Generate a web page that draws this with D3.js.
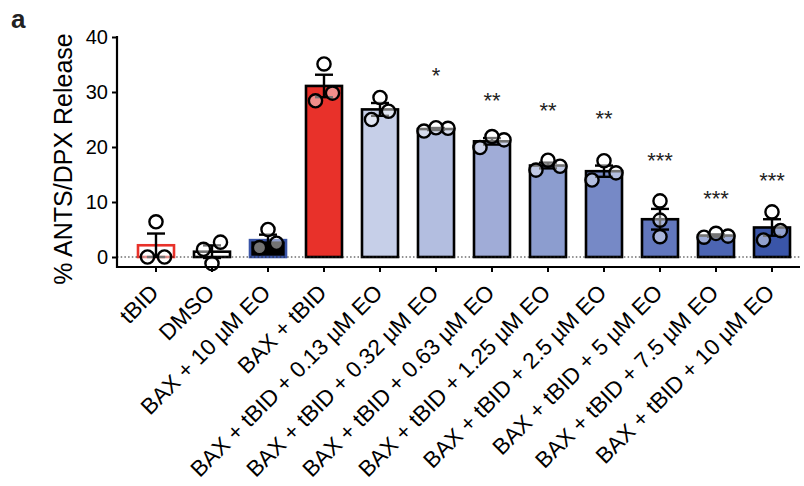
<!DOCTYPE html>
<html>
<head>
<meta charset="utf-8">
<script src="https://cdn.jsdelivr.net/npm/d3@7/dist/d3.min.js"></script>
<style>
  html, body { margin: 0; padding: 0; background: #fff; }
  svg { display: block; font-family: Arial, "Liberation Sans", Helvetica, sans-serif; }
</style>
</head>
<body>
<svg id="chart" width="804" height="486"></svg>
<script>
// ---- data ----
const categories = [
  "tBID", "DMSO", "BAX + 10 µM EO", "BAX + tBID",
  "BAX + tBID + 0.13 µM EO", "BAX + tBID + 0.32 µM EO", "BAX + tBID + 0.63 µM EO",
  "BAX + tBID + 1.25 µM EO", "BAX + tBID + 2.5 µM EO", "BAX + tBID + 5 µM EO",
  "BAX + tBID + 7.5 µM EO", "BAX + tBID + 10 µM EO"
];
const replicates = [
  [0.0, 6.4, 0.0],
  [2.7, -1.2, 1.4],
  [1.7, 5.0, 2.5],
  [28.4, 35.1, 29.8],
  [29.0, 25.0, 26.5],
  [22.9, 23.5, 23.4],
  [19.9, 21.9, 21.3],
  [15.8, 17.6, 16.5],
  [17.5, 14.0, 15.3],
  [10.2, 6.7, 3.7],
  [3.6, 4.3, 3.8],
  [8.2, 3.1, 4.8]
];
const significance = ["", "", "", "", "", "*", "**", "**", "**", "***", "***", "***"];
const significanceLevel = [null, null, null, null, null, 33.9, 29.2, 27.5, 26.0, 18.4, 11.5, 14.7];
const yTicks = [0, 10, 20, 30, 40];
const barFills = ["#ffffff", "#ffffff", "#000000", "#e8312a", "#c6cfe8", "#b3bee0", "#a0acd7",
                  "#8c9dcf", "#7689c6", "#6277bd", "#4c65b3", "#3a55a8"];
const barStrokes = ["#e8312a", "#000000", "#3a55a8", "#000000", "#000000", "#000000", "#000000",
                    "#000000", "#000000", "#000000", "#000000", "#000000"];

// ---- layout ----
const svg = d3.select("#chart");
const axLeft = 117, xEnd = 800, axTop = 37, zeroY = 257, axisY = 267;

const x = d3.scaleBand().domain(categories).range([128, 800]).paddingInner(0.357).paddingOuter(0.1785);
const y = d3.scaleLinear().domain([0, 40]).range([zeroY, axTop]);

const stats = replicates.map(rr => {
  const m = d3.mean(rr);
  const sem = d3.deviation(rr) / Math.sqrt(rr.length);
  return { mean: m, sem: sem };
});

// bars
svg.append("g").selectAll("rect").data(categories).join("rect")
  .attr("x", d => x(d))
  .attr("width", x.bandwidth())
  .attr("y", (d, i) => Math.min(y(stats[i].mean), y(0)))
  .attr("height", (d, i) => Math.abs(y(0) - y(stats[i].mean)))
  .attr("fill", (d, i) => barFills[i])
  .attr("stroke", (d, i) => barStrokes[i])
  .attr("stroke-width", 2.6);

// zero dotted line
svg.append("line")
  .attr("x1", axLeft).attr("x2", xEnd)
  .attr("y1", y(0)).attr("y2", y(0))
  .attr("stroke", "#222").attr("stroke-width", 1.2)
  .attr("stroke-dasharray", "1.5,2.2");

// error bars
const eb = svg.append("g").attr("stroke", "#000").attr("stroke-width", 2.4);
categories.forEach((c, i) => {
  const cx = x(c) + x.bandwidth() / 2;
  const lo = stats[i].mean - stats[i].sem, hi = stats[i].mean + stats[i].sem;
  eb.append("line").attr("x1", cx).attr("x2", cx).attr("y1", y(lo)).attr("y2", y(hi));
  eb.append("line").attr("x1", cx - 9).attr("x2", cx + 9).attr("y1", y(hi)).attr("y2", y(hi));
  eb.append("line").attr("x1", cx - 9).attr("x2", cx + 9).attr("y1", y(lo)).attr("y2", y(lo));
});

// points with simple row dodge
const rad = 6.6;
const pts = [];
categories.forEach((c, i) => {
  const cx = x(c) + x.bandwidth() / 2;
  const sorted = replicates[i].slice().sort((a, b) => a - b);
  const groups = [];
  sorted.forEach(v => {
    const g = groups[groups.length - 1];
    if (g && Math.abs(y(g[g.length - 1]) - y(v)) < 13) g.push(v); else groups.push([v]);
  });
  groups.forEach(g => {
    let offs;
    if (g.length === 1) offs = [0];
    else if (g.length === 2) offs = [-8.5, 8.5];
    else offs = [-12, 12, 0];
    g.forEach((v, k) => pts.push({ cx: cx + offs[k], v: v }));
  });
});
svg.append("g").selectAll("circle").data(pts).join("circle")
  .attr("cx", d => d.cx).attr("cy", d => y(d.v)).attr("r", rad)
  .attr("fill", "rgba(255,255,255,0.45)")
  .attr("stroke", "#000").attr("stroke-width", 2.4);

// significance
svg.append("g").selectAll("text").data(categories).join("text")
  .attr("x", d => x(d) + x.bandwidth() / 2)
  .attr("y", (d, i) => significanceLevel[i] == null ? 0 : y(significanceLevel[i]) + 12)
  .attr("text-anchor", "middle")
  .attr("font-size", 22)
  .attr("fill", "#222")
  .text((d, i) => significance[i]);

// y axis
const yAxis = svg.append("g").attr("transform", `translate(${axLeft},0)`)
  .call(d3.axisLeft(y).tickValues(yTicks).tickSize(5).tickPadding(4).tickSizeOuter(0));
yAxis.select(".domain").remove();
yAxis.selectAll(".tick line").attr("stroke", "#000").attr("stroke-width", 2);
yAxis.selectAll(".tick text").attr("font-size", 20).attr("fill", "#000")
  .attr("font-family", "Arial, 'Liberation Sans', sans-serif");
svg.append("line").attr("x1", axLeft).attr("x2", axLeft).attr("y1", y(40) - 1).attr("y2", axisY + 1)
  .attr("stroke", "#000").attr("stroke-width", 2.2);

// x axis
const xAxis = svg.append("g").attr("transform", `translate(0,${axisY})`)
  .call(d3.axisBottom(x).tickSize(5).tickSizeOuter(0));
xAxis.select(".domain").remove();
svg.append("line").attr("x1", axLeft).attr("x2", xEnd).attr("y1", axisY).attr("y2", axisY)
  .attr("stroke", "#000").attr("stroke-width", 2.2);
xAxis.selectAll(".tick line").attr("stroke", "#000").attr("stroke-width", 2);
xAxis.selectAll(".tick text")
  .attr("x", 0).attr("y", 0).attr("dy", 0)
  .attr("transform", "translate(4,27) rotate(-45)")
  .attr("text-anchor", "end")
  .attr("font-size", 22.5).attr("fill", "#000")
  .attr("font-family", "Arial, 'Liberation Sans', sans-serif");

// y title
svg.append("text")
  .attr("transform", "translate(72,159) rotate(-90)")
  .attr("text-anchor", "middle")
  .attr("font-size", 25)
  .attr("fill", "#000")
  .text("% ANTS/DPX Release");

// panel letter
svg.append("text")
  .attr("x", 11).attr("y", 28)
  .attr("font-size", 26).attr("font-weight", "bold")
  .attr("fill", "#222")
  .text("a");
</script>
</body>
</html>
